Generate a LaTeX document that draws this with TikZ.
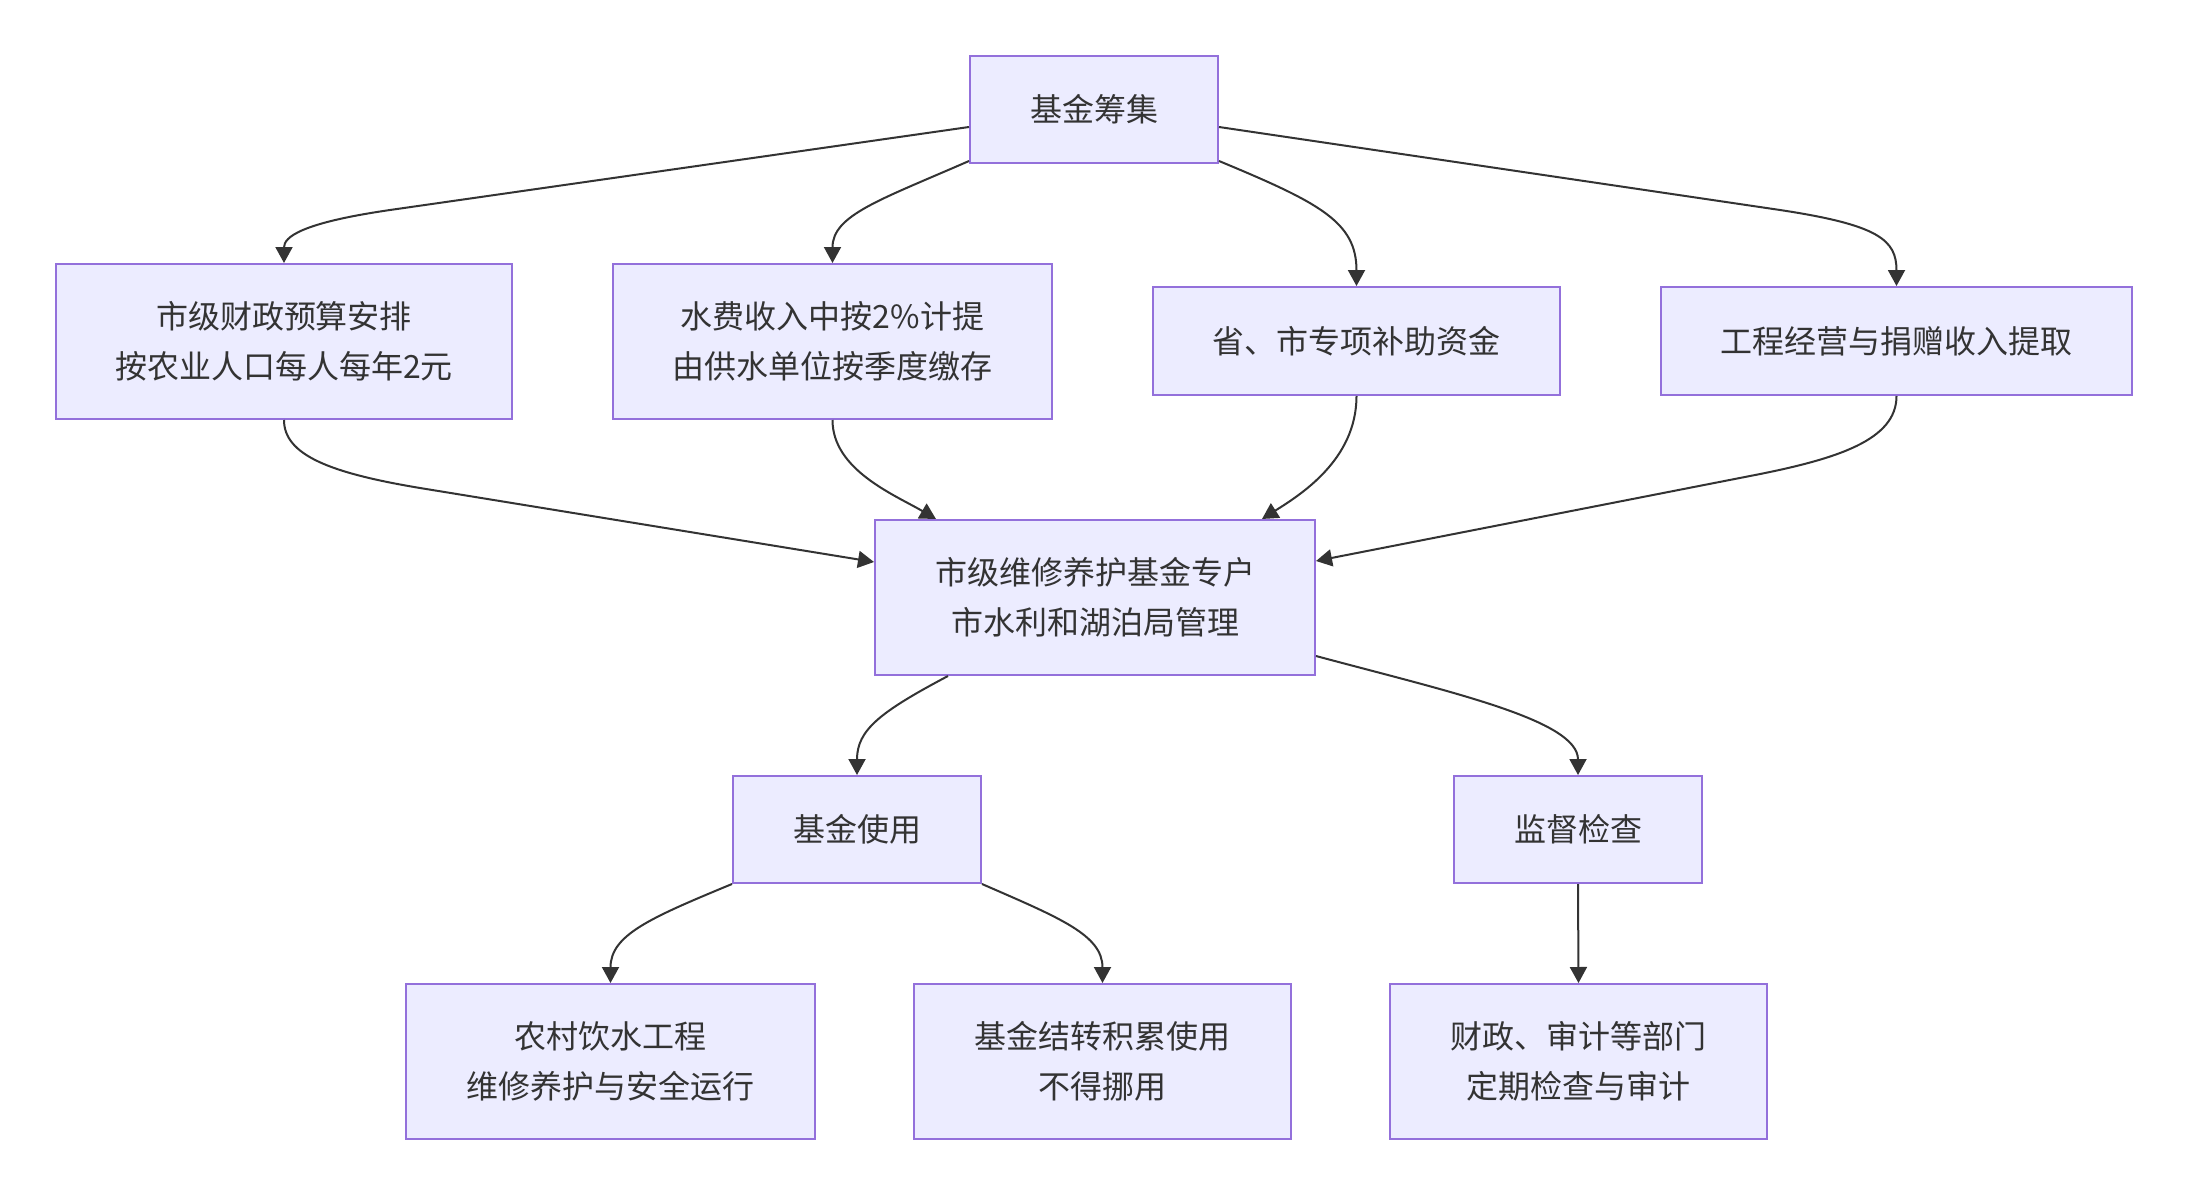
\documentclass[tikz,border=0pt]{standalone}
\usepackage{fontspec}
\setmainfont{Noto Sans CJK SC}
\usetikzlibrary{arrows.meta}
\definecolor{boxfill}{HTML}{ECECFF}
\definecolor{boxline}{HTML}{9370DB}
\definecolor{ink}{HTML}{333333}
\begin{document}
\begin{tikzpicture}[x=1pt,y=-1pt,
  box/.style={draw=boxline,fill=boxfill,line width=2pt,rectangle,align=center,
    text=ink,font=\fontsize{32}{50}\selectfont,inner sep=0pt},
  edge/.style={draw=ink,line width=2pt,-{Triangle[length=16pt,width=17pt]}}]
\useasboundingbox (0,0) rectangle (2188,1196);
\fill[white] (0,0) rectangle (2188,1196);
% nodes
\node[box,minimum width=248pt,minimum height=107pt] (top) at (1094,109.5) {基金筹集};
\node[box,minimum width=456pt,minimum height=155pt] (a) at (284,341.5) {市级财政预算安排\\按农业人口每人每年2元};
\node[box,minimum width=439pt,minimum height=155pt] (b) at (832.5,341.5) {水费收入中按2\%计提\\由供水单位按季度缴存};
\node[box,minimum width=407pt,minimum height=108pt] (c) at (1356.5,341) {省、市专项补助资金};
\node[box,minimum width=471pt,minimum height=108pt] (d) at (1896.5,341) {工程经营与捐赠收入提取};
\node[box,minimum width=440pt,minimum height=155pt] (m) at (1095,597.5) {市级维修养护基金专户\\市水利和湖泊局管理};
\node[box,minimum width=248pt,minimum height=107pt] (u) at (857,829.5) {基金使用};
\node[box,minimum width=248pt,minimum height=107pt] (s) at (1578,829.5) {监督检查};
\node[box,minimum width=409pt,minimum height=155pt] (r) at (610.5,1061.5) {农村饮水工程\\维修养护与安全运行};
\node[box,minimum width=377pt,minimum height=155pt] (t) at (1102.5,1061.5) {基金结转积累使用\\不得挪用};
\node[box,minimum width=377pt,minimum height=155pt] (f) at (1578.5,1061.5) {财政、审计等部门\\定期检查与审计};
% edges from top
\draw[edge] ([yshift=-17.5pt]top.west) -- (390,210) .. controls (301,223) and (284,237) .. (a.north);
\draw[edge] ([yshift=3pt]top.south west) .. controls (880,200) and (832.5,215) .. (b.north);
\draw[edge] ([yshift=3pt]top.south east) .. controls (1320,203) and (1356.5,222) .. (c.north);
\draw[edge] ([yshift=-17.5pt]top.east) -- (1780,210) .. controls (1879,225) and (1896.5,240) .. (d.north);
% edges into m
\draw[edge] (a.south) .. controls (284,455) and (330,473) .. (420,488) -- ([yshift=35.5pt]m.west);
\draw[edge] (b.south) .. controls (832.5,470) and (895,495) .. ([xshift=62pt]m.north west);
\draw[edge] (c.south) .. controls (1356.5,460) and (1300,495) .. ([xshift=-54pt]m.north east);
\draw[edge] (d.south) .. controls (1896.5,440) and (1838,459) .. (1750,476) -- ([yshift=36.5pt]m.east);
% edges from m
\draw[edge] ([xshift=74pt]m.south west) .. controls (880,712) and (857,730) .. (u.north);
\draw[edge] ([yshift=-58.5pt]m.east) .. controls (1450,692) and (1578,720) .. (s.north);
% edges from u and s
\draw[edge] (u.south west) .. controls (650,918) and (610.5,935) .. (r.north);
\draw[edge] (u.south east) .. controls (1060,918) and (1102.5,935) .. (t.north);
\draw[edge] (s.south) -- (f.north);
\end{tikzpicture}
\end{document}
